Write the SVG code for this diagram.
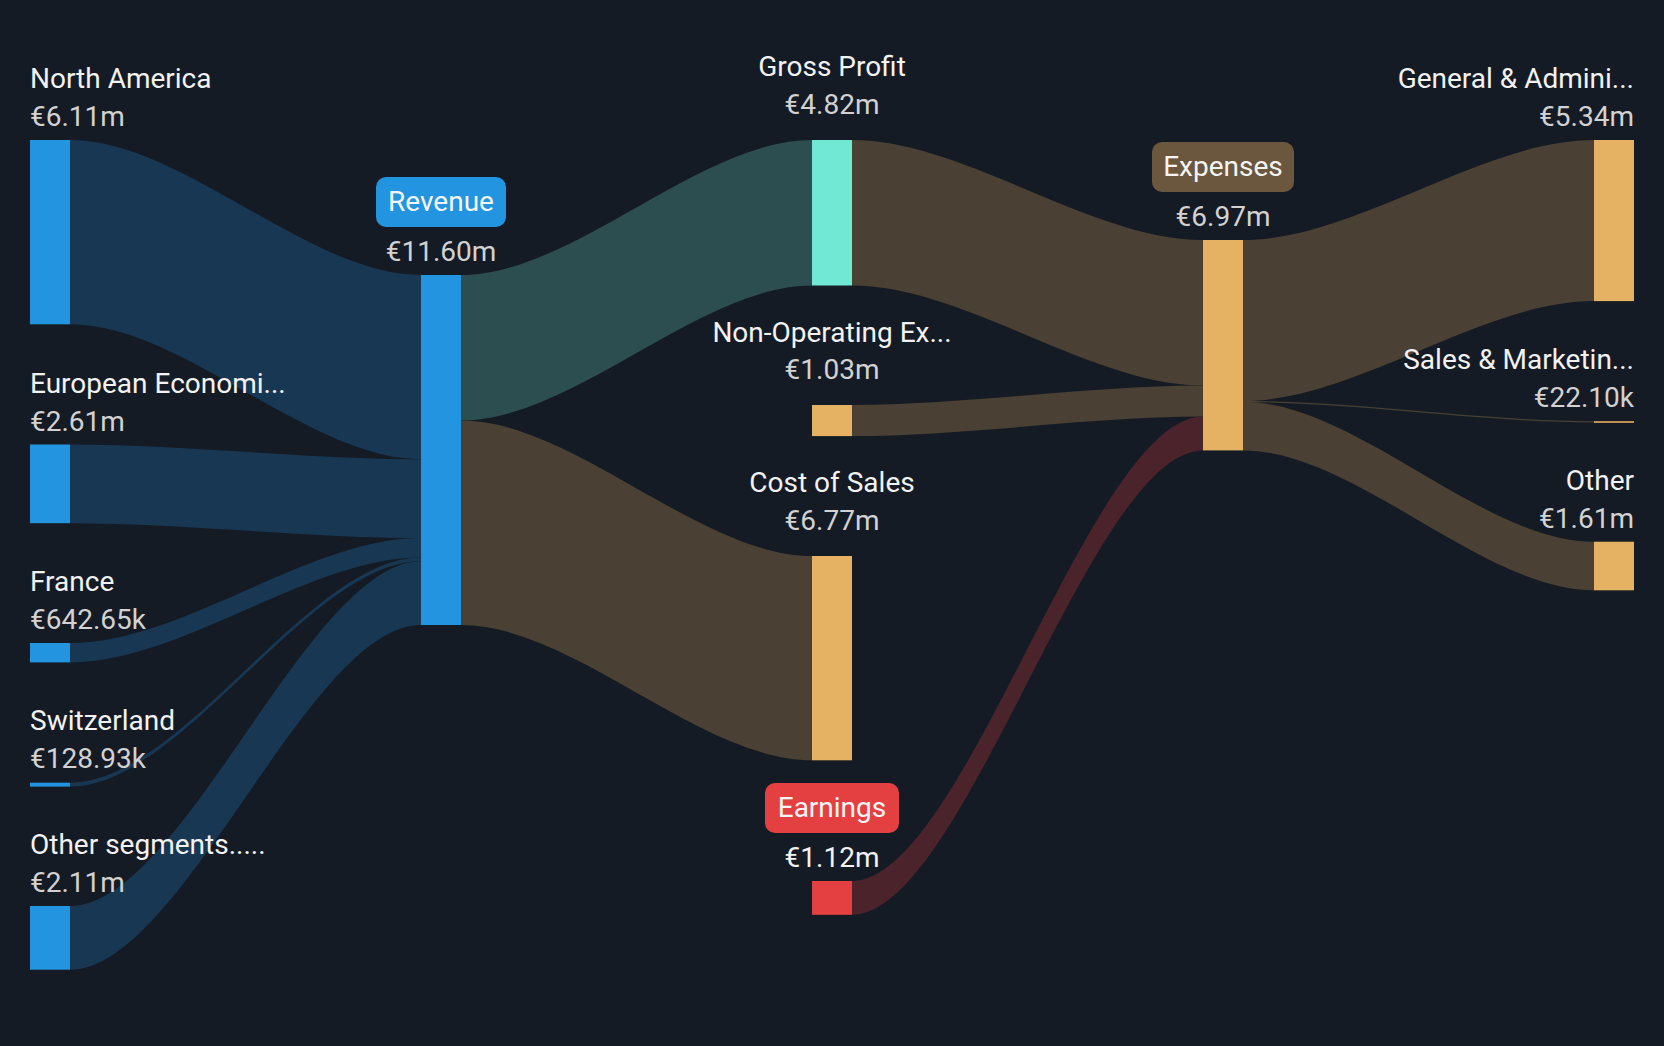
<svg xmlns="http://www.w3.org/2000/svg" width="1664" height="1046" viewBox="0 0 1664 1046">
<style>
text{font-family:Roboto,"Liberation Sans",sans-serif;font-size:28px}
.lb{fill:#f2f2f2}
.vl{fill:#d2d2d2}
.bx{fill:#f5f5f5}
.mid{text-anchor:middle}
.end{text-anchor:end}
.nb{fill:#2394df}
.nt{fill:#70e8d4}
.no{fill:#e5b162}
.nr{fill:#e44042}
.lk-b{fill:#183753}
.lk-t{fill:#2d4e50}
.lk-o{fill:#4a4033}
.lk-r{fill:#4b232b}
</style>
<rect width="1664" height="1046" fill="#151b25"/>
<g id="connectors">
<path class="lk-b" d="M70 140 C182.3 140 308.7 275 421 275 L421 459.3 C308.7 459.3 182.3 324.3 70 324.3 Z"/>
<path class="lk-b" d="M70 444.5 C182.3 444.5 308.7 459.3 421 459.3 L421 538 C308.7 538 182.3 523.2 70 523.2 Z"/>
<path class="lk-b" d="M70 643 C182.3 643 308.7 538 421 538 L421 557.4 C308.7 557.4 182.3 662.4 70 662.4 Z"/>
<path class="lk-b" d="M70 782.7 C182.3 782.7 308.7 557.4 421 557.4 L421 561.3 C308.7 561.3 182.3 786.6 70 786.6 Z"/>
<path class="lk-b" d="M70 906 C182.3 906 308.7 561.3 421 561.3 L421 625 C308.7 625 182.3 969.7 70 969.7 Z"/>
<path class="lk-t" d="M461 275 C573.3 275 699.7 140 812 140 L812 285.5 C699.7 285.5 573.3 420.5 461 420.5 Z"/>
<path class="lk-o" d="M461 420.5 C573.3 420.5 699.7 556 812 556 L812 760.3 C699.7 760.3 573.3 625 461 625 Z"/>
<path class="lk-o" d="M852 140 C964.3 140 1090.7 240 1203 240 L1203 385.5 C1090.7 385.5 964.3 285.5 852 285.5 Z"/>
<path class="lk-o" d="M852 405 C964.3 405 1090.7 385.5 1203 385.5 L1203 416.6 C1090.7 416.6 964.3 436.1 852 436.1 Z"/>
<path class="lk-r" d="M852 881 C964.3 881 1090.7 416.6 1203 416.6 L1203 450.4 C1090.7 450.4 964.3 914.8 852 914.8 Z"/>
<path class="lk-o" d="M1243 240 C1355.3 240 1481.7 140 1594 140 L1594 301.1 C1481.7 301.1 1355.3 401.1 1243 401.1 Z"/>
<path class="lk-o" d="M1243 401 C1355.3 401 1481.7 421.3 1594 421.3 L1594 422.5 C1481.7 422.5 1355.3 402.2 1243 402.2 Z"/>
<path class="lk-o" d="M1243 401.8 C1355.3 401.8 1481.7 541.7 1594 541.7 L1594 590.3 C1481.7 590.3 1355.3 450.4 1243 450.4 Z"/>
</g>
<g id="north-america">
<rect class="nb" x="30" y="140" width="40" height="184.3"/>
<text class="lb" x="30" y="88">North America</text>
<text class="vl" x="30" y="126">€6.11m</text>
</g>
<g id="european-economic">
<rect class="nb" x="30" y="444.5" width="40" height="78.7"/>
<text class="lb" x="30" y="393">European Economi...</text>
<text class="vl" x="30" y="431">€2.61m</text>
</g>
<g id="france">
<rect class="nb" x="30" y="643" width="40" height="19.4"/>
<text class="lb" x="30" y="591">France</text>
<text class="vl" x="30" y="629">€642.65k</text>
</g>
<g id="switzerland">
<rect class="nb" x="30" y="782.7" width="40" height="3.9"/>
<text class="lb" x="30" y="730">Switzerland</text>
<text class="vl" x="30" y="768">€128.93k</text>
</g>
<g id="other-segments">
<rect class="nb" x="30" y="906" width="40" height="63.7"/>
<text class="lb" x="30" y="854">Other segments.....</text>
<text class="vl" x="30" y="892">€2.11m</text>
</g>
<g id="revenue">
<rect class="nb" x="421" y="275" width="40" height="350"/>
<rect class="nb" x="376" y="177" width="130" height="50" rx="10"/>
<text class="bx mid" x="441" y="211">Revenue</text>
<text class="vl mid" x="441" y="261">€11.60m</text>
</g>
<g id="gross-profit">
<rect class="nt" x="812" y="140" width="40" height="145.5"/>
<text class="lb mid" x="832" y="76">Gross Profit</text>
<text class="vl mid" x="832" y="114">€4.82m</text>
</g>
<g id="non-operating">
<rect class="no" x="812" y="405" width="40" height="31.1"/>
<text class="lb mid" x="832" y="342">Non-Operating Ex...</text>
<text class="vl mid" x="832" y="379">€1.03m</text>
</g>
<g id="cost-of-sales">
<rect class="no" x="812" y="556" width="40" height="204.3"/>
<text class="lb mid" x="832" y="492">Cost of Sales</text>
<text class="vl mid" x="832" y="530">€6.77m</text>
</g>
<g id="earnings">
<rect class="nr" x="812" y="881" width="40" height="33.8"/>
<rect class="nr" x="765" y="783" width="134" height="50" rx="10"/>
<text class="bx mid" x="832" y="817">Earnings</text>
<text class="lb mid" x="832" y="867">€1.12m</text>
</g>
<g id="expenses">
<rect class="no" x="1203" y="240" width="40" height="210.4"/>
<rect x="1152" y="142" width="142" height="50" rx="10" fill="#6b573d"/>
<text class="bx mid" x="1223" y="176">Expenses</text>
<text class="vl mid" x="1223" y="226">€6.97m</text>
</g>
<g id="general-admin">
<rect class="no" x="1594" y="140" width="40" height="161.1"/>
<text class="lb end" x="1634" y="88">General &amp; Admini...</text>
<text class="vl end" x="1634" y="126">€5.34m</text>
</g>
<g id="sales-marketing">
<rect class="no" x="1594" y="421.2" width="40" height="1.6"/>
<text class="lb end" x="1634" y="369">Sales &amp; Marketin...</text>
<text class="vl end" x="1634" y="407">€22.10k</text>
</g>
<g id="other">
<rect class="no" x="1594" y="541.7" width="40" height="48.6"/>
<text class="lb end" x="1634" y="490">Other</text>
<text class="vl end" x="1634" y="528">€1.61m</text>
</g>
</svg>
